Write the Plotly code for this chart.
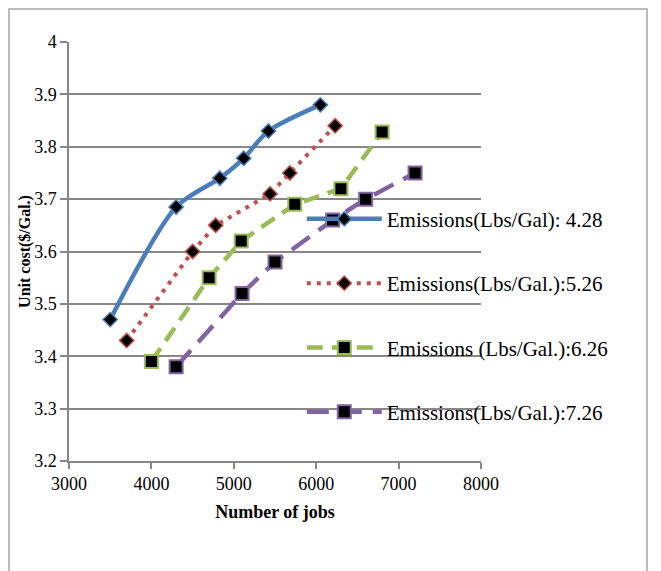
import plotly.graph_objects as go

# Data
jobs_428 = [3500, 4300, 4830, 5120, 5420, 6050]
cost_428 = [3.47, 3.685, 3.74, 3.778, 3.83, 3.88]

jobs_526 = [3700, 4500, 4780, 5440, 5680, 6230]
cost_526 = [3.43, 3.60, 3.65, 3.71, 3.75, 3.84]

jobs_626 = [4000, 4700, 5090, 5740, 6300, 6800]
cost_626 = [3.39, 3.55, 3.62, 3.69, 3.72, 3.828]

jobs_726 = [4300, 5100, 5500, 6200, 6600, 7200]
cost_726 = [3.38, 3.52, 3.58, 3.66, 3.70, 3.75]

names = ["Emissions(Lbs/Gal): 4.28", "Emissions(Lbs/Gal.):5.26",
         "Emissions (Lbs/Gal.):6.26", "Emissions(Lbs/Gal.):7.26"]

x_ticks = [3000, 4000, 5000, 6000, 7000, 8000]
y_ticks = [3.2, 3.3, 3.4, 3.5, 3.6, 3.7, 3.8, 3.9, 4.0]

FONT = "Liberation Serif"
GRID = "#878787"

fig = go.Figure()

fig.add_trace(go.Scatter(
    x=jobs_428, y=cost_428, name=names[0], mode="lines+markers", legendgroup="a",
    line=dict(color="#4A7EBB", width=4.5, shape="spline", smoothing=0.8),
    marker=dict(symbol="diamond", size=11, color="black", line=dict(color="#4A7EBB", width=1.5))))
fig.add_trace(go.Scatter(
    x=jobs_526, y=cost_526, name=names[1], mode="lines+markers", legendgroup="b",
    line=dict(color="#C0504D", width=4, dash="4px,6px"),
    marker=dict(symbol="diamond", size=11, color="black", line=dict(color="#C0504D", width=1.5))))
fig.add_trace(go.Scatter(
    x=jobs_626, y=cost_626, name=names[2], mode="lines+markers", legendgroup="c",
    line=dict(color="#9BBB59", width=4.5, dash="16px,9px"),
    marker=dict(symbol="square", size=13, color="black", line=dict(color="#9BBB59", width=2))))
fig.add_trace(go.Scatter(
    x=jobs_726, y=cost_726, name=names[3], mode="lines+markers", legendgroup="d",
    line=dict(color="#8064A2", width=4.5, dash="22px,11px"),
    marker=dict(symbol="square", size=13, color="black", line=dict(color="#8064A2", width=2))))

# page body adds an 8px offset; margins compensate so the plot area lands where it is in the reference
L, T, PW, PH = 61, 34, 412, 419
fig.update_layout(
    width=661, height=571,
    margin=dict(l=L, r=661 - L - PW, t=T, b=571 - T - PH, autoexpand=False),
    paper_bgcolor="white", plot_bgcolor="white",
    font=dict(family=FONT, color="black", size=18),
    legend=dict(x=0.565, y=0.626, xanchor="left", yanchor="top",
                bgcolor="rgba(0,0,0,0)", font=dict(size=21, family=FONT),
                tracegroupgap=34, traceorder="grouped", itemwidth=75),
    shapes=[dict(type="rect", xref="paper", yref="paper",
                 x0=(1 - L) / PW, x1=(639 - L) / PW,
                 y0=(T + PH - 600) / PH, y1=(T + PH - 1) / PH,
                 line=dict(color="#A6A6A6", width=1.5), fillcolor="rgba(0,0,0,0)", layer="below")],
)

fig.update_xaxes(range=[3000, 8000], tickvals=x_ticks, ticktext=[str(v) for v in x_ticks],
                 showgrid=False, zeroline=False, showline=True, linecolor=GRID, linewidth=1.5,
                 ticks="outside", ticklen=6, tickcolor=GRID, tickwidth=1.5,
                 tickfont=dict(size=18, family=FONT),
                 title=dict(text="<b>Number of jobs</b>", font=dict(size=18, family=FONT), standoff=12))
fig.update_yaxes(range=[3.2, 4.0], tickvals=y_ticks, ticktext=[f"{v:g}" for v in y_ticks],
                 showgrid=True, gridcolor=GRID, gridwidth=1.5, zeroline=False,
                 showline=True, linecolor=GRID, linewidth=1.5,
                 ticks="outside", ticklen=7, tickcolor=GRID, tickwidth=1.5,
                 tickfont=dict(size=18, family=FONT),
                 title=dict(text="<b>Unit cost($/Gal.)</b>", font=dict(size=16, family=FONT), standoff=0))

fig.write_html("out.html")
